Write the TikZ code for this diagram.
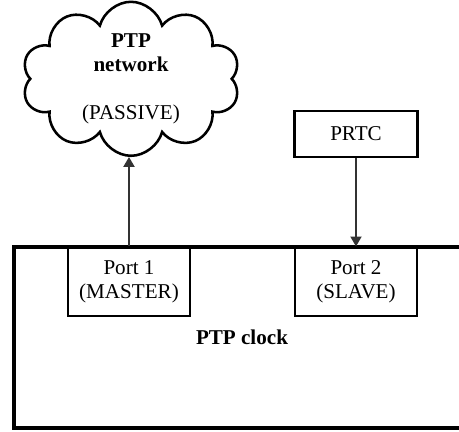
\documentclass[tikz,border=0pt]{standalone}
\usepackage{fontspec}
\setmainfont{Liberation Serif}
\usetikzlibrary{shapes.symbols,arrows.meta,positioning}

\begin{document}
\begin{tikzpicture}[node distance=3.6875cm,
  font=\fontsize{15}{17}\selectfont,
  port/.style={rectangle, minimum width=3.05cm, minimum height=1.725cm, text centered, align=center, draw=black, line width=0.9pt},
  link/.style={-{Triangle[width=8pt,length=7pt]}, draw=black!80, line width=0.8pt}]

\useasboundingbox (0,0) rectangle (11.475,10.8);
\clip (0,0) rectangle (11.475,10.8);

\node (clock) [rectangle, minimum width=11.4cm, minimum height=4.525cm, draw=black, line width=2.4pt, font=\fontsize{15}{17}\selectfont\bfseries] at (6.05,2.3625) {PTP clock};

\node (port1) [port] at (3.225,3.7625) {Port 1\\(MASTER)};

\node (port2) [port] at (8.9,3.7625) {Port 2\\(SLAVE)};

\node (prtc) [rectangle, minimum width=3.075cm, minimum height=1.15cm, text centered, draw=black, line width=2pt, above of=port2] {PRTC};

\node (net) [cloud, cloud puffs=10, cloud puff arc=150, cloud ignores aspect, minimum width=5.45cm, minimum height=3.85cm, inner sep=0pt, draw=black, line width=1.8pt, above of=port1, yshift=1.38cm, xshift=0.05cm, label={[align=center]center:\textbf{PTP}\\\textbf{network}\\[17pt](PASSIVE)}] {};

\draw[link] (port1.north) -- (port1.north |- net.south);
\draw[link] (prtc.south) -- (port2.north);

\end{tikzpicture}
\end{document}
